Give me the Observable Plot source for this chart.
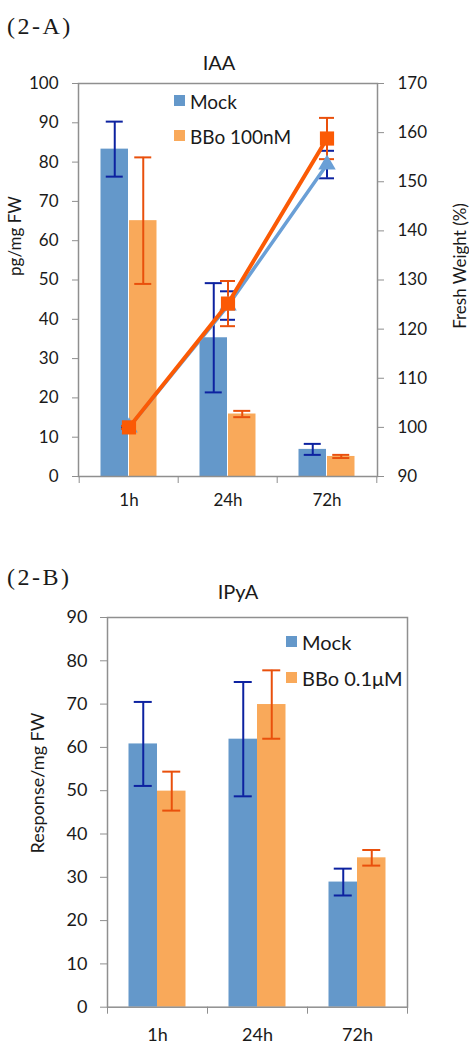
<!DOCTYPE html>
<html><head><meta charset="utf-8">
<script src="https://cdn.jsdelivr.net/npm/d3@7"></script>
<script src="https://cdn.jsdelivr.net/npm/@observablehq/plot@0.6"></script>
<style>
body{margin:0;background:#fff;}
#wrap{position:relative;width:469px;height:1045px;overflow:hidden;font-family:Lato,sans-serif;color:#1a1a1a;}
.abs{position:absolute;white-space:nowrap;line-height:1;}
.panel{font-family:"Liberation Serif","DejaVu Serif",serif;font-size:24px;letter-spacing:2.5px;}
.rot{transform:translate(-50%,-50%) rotate(-90deg);}
.ctr{transform:translate(-50%,-50%);}
.sw{position:absolute;width:11px;height:11px;}
svg{position:absolute;left:0;}
</style></head>
<body><div id="wrap"></div>
<script>
// ---------- data ----------
const times = ["1h", "24h", "72h"];
// Panel 2-A : IAA (pg/mg FW)
const iaaMock = [83.3, 35.3, 6.9];
const iaaMockErr = [7.0, 13.9, 1.4];
const iaaBBo = [65.1, 15.9, 5.1];
const iaaBBoErr = [16.1, 0.8, 0.4];
// Panel 2-A : Fresh Weight (%)
const fwMock = [100, 124.8, 153.5];
const fwMockErr = [0.2, 2.9, 2.8];
const fwBBo = [100, 125.2, 158.8];
const fwBBoErr = [0.3, 4.6, 4.2];
const iaaTicks = [0, 10, 20, 30, 40, 50, 60, 70, 80, 90, 100];
const fwTicks = [90, 100, 110, 120, 130, 140, 150, 160, 170];
// Panel 2-B : IPyA (Response/mg FW)
const ipyaMock = [60.8, 61.9, 28.9];
const ipyaMockErr = [9.7, 13.2, 3.1];
const ipyaBBo = [49.9, 69.9, 34.5];
const ipyaBBoErr = [4.5, 7.9, 1.8];
const ipyaTicks = [0, 10, 20, 30, 40, 50, 60, 70, 80, 90];

const legendA = ["Mock", "BBo 100nM"];
const legendB = ["Mock", "BBo 0.1μM"];

// ---------- styles ----------
const C = {
  mockBar: "#6498ca", bboBar: "#f9a95a",
  mockErr: "#0d22a0", bboErr: "#e9500c",
  mockLine: "#6a9fd6", bboLine: "#fb5a05",
  frame: "#8f8f8f", text: "#1a1a1a"
};

const rows = (vals, errs) => times.map((t, i) => ({t, v: vals[i], e: errs[i]}));

// FW (90..170) shown on the shared y scale (0..100)
const fwToY = v => (v - 90) * 100 / 80;
const yToFw = y => Math.round(y * 80 / 100 + 90);

function barMarks(data, side, fill, errColor) {
  const inL = side < 0 ? 21.5 : 50, inR = side < 0 ? 50 : 21.5;
  const cx = side < 0 ? -14.25 : 14.25;
  const capHalf = 9;
  return [
    Plot.barY(data, {x: "t", y: "v", fill, insetLeft: inL, insetRight: inR}),
    Plot.ruleX(data, {x: "t", y1: d => d.v - d.e, y2: d => d.v + d.e, dx: cx, stroke: errColor, strokeWidth: 2}),
    Plot.tickY(data, {x: "t", y: d => d.v + d.e, stroke: errColor, strokeWidth: 2,
      insetLeft: 50 + cx - capHalf, insetRight: 50 - cx - capHalf}),
    Plot.tickY(data, {x: "t", y: d => d.v - d.e, stroke: errColor, strokeWidth: 2,
      insetLeft: 50 + cx - capHalf, insetRight: 50 - cx - capHalf})
  ];
}

function lineErr(data, color, capHalf) {
  return [
    Plot.ruleX(data, {x: "t", y1: d => fwToY(d.v - d.e), y2: d => fwToY(d.v + d.e), stroke: color, strokeWidth: 2}),
    Plot.tickY(data, {x: "t", y: d => fwToY(d.v + d.e), stroke: color, strokeWidth: 2, insetLeft: 50 - capHalf, insetRight: 50 - capHalf}),
    Plot.tickY(data, {x: "t", y: d => fwToY(d.v - d.e), stroke: color, strokeWidth: 2, insetLeft: 50 - capHalf, insetRight: 50 - capHalf})
  ];
}

const wrap = document.getElementById("wrap");

// ---------- Panel A ----------
const mA = rows(iaaMock, iaaMockErr), bA = rows(iaaBBo, iaaBBoErr);
const fmA = rows(fwMock, fwMockErr), fbA = rows(fwBBo, fwBBoErr);
const plotA = Plot.plot({
  width: 469, height: 520,
  marginLeft: 78, marginRight: 92, marginTop: 83, marginBottom: 44,
  style: {fontFamily: "Lato, sans-serif", fontSize: "17px", color: C.text, background: "white"},
  x: {type: "band", domain: times, padding: 0, label: null},
  y: {domain: [0, 100], label: null},
  marks: [
    ...barMarks(mA, -1, C.mockBar, C.mockErr),
    ...barMarks(bA, 1, C.bboBar, C.bboErr),
    Plot.frame({stroke: C.frame, strokeWidth: 1.5}),
    Plot.axisY(iaaTicks, {anchor: "left", tickSize: 6, tickPadding: 14, stroke: C.frame, fill: C.text, fontSize: 17, label: null}),
    Plot.axisY(fwTicks.map(fwToY), {anchor: "right", tickSize: 6, tickPadding: 14, stroke: C.frame, fill: C.text, fontSize: 17, tickFormat: yToFw, label: null}),
    Plot.axisX({tickSize: 0, tickPadding: 17, fill: C.text, fontSize: 17, label: null}),
    Plot.axisX(times, {tickSize: 7, tickFormat: () => "", stroke: C.frame, dx: -49.8, label: null}),
    Plot.axisX([times[times.length - 1]], {tickSize: 7, tickFormat: () => "", stroke: C.frame, dx: 49.8, label: null}),
    ...lineErr(fmA, C.mockErr, 8),
    ...lineErr(fbA, C.bboErr, 8),
    Plot.line(fmA, {x: "t", y: d => fwToY(d.v), stroke: C.mockLine, strokeWidth: 3.5}),
    Plot.dot(fmA, {x: "t", y: d => fwToY(d.v), symbol: "triangle", r: 6.5, fill: C.mockLine}),
    Plot.line(fbA, {x: "t", y: d => fwToY(d.v), stroke: C.bboLine, strokeWidth: 4}),
    Plot.dot(fbA, {x: "t", y: d => fwToY(d.v), symbol: "square", r: 8, fill: C.bboLine})
  ]
});
plotA.style.top = "0px";
wrap.appendChild(plotA);

// ---------- Panel B ----------
const mB = rows(ipyaMock, ipyaMockErr), bB = rows(ipyaBBo, ipyaBBoErr);
const plotB = Plot.plot({
  width: 469, height: 485,
  marginLeft: 107, marginRight: 62, marginTop: 57, marginBottom: 38.3,
  style: {fontFamily: "Lato, sans-serif", fontSize: "18px", color: C.text, background: "white"},
  x: {type: "band", domain: times, padding: 0, label: null},
  y: {domain: [0, 90], label: null},
  marks: [
    ...barMarks(mB, -1, C.mockBar, C.mockErr),
    ...barMarks(bB, 1, C.bboBar, C.bboErr),
    Plot.frame({stroke: C.frame, strokeWidth: 1.5}),
    Plot.axisY(ipyaTicks, {anchor: "left", tickSize: 7, tickPadding: 13, stroke: C.frame, fill: C.text, fontSize: 18, label: null}),
    Plot.axisX({tickSize: 0, tickPadding: 21, fill: C.text, fontSize: 18, label: null}),
    Plot.axisX(times, {tickSize: 7, tickFormat: () => "", stroke: C.frame, dx: -50, label: null}),
    Plot.axisX([times[times.length - 1]], {tickSize: 7, tickFormat: () => "", stroke: C.frame, dx: 50, label: null})
  ]
});
plotB.style.top = "560px";
wrap.appendChild(plotB);

// ---------- text & legends ----------
function addText(txt, x, y, cls, size, extra) {
  const d = document.createElement("div");
  d.className = "abs " + cls;
  d.textContent = txt;
  d.style.left = x + "px"; d.style.top = y + "px";
  if (size) d.style.fontSize = size + "px";
  if (extra) Object.assign(d.style, extra);
  wrap.appendChild(d);
}
function addSwatch(x, y, color) {
  const s = document.createElement("div");
  s.className = "sw"; s.style.left = x + "px"; s.style.top = y + "px"; s.style.background = color;
  wrap.appendChild(s);
}

addText("(2-A)", 7, 14, "panel");
addText("IAA", 219, 62, "ctr", 20);
addText("pg/mg FW", 14, 236, "rot", 17);
addText("Fresh Weight (%)", 459, 266, "rot", 17);
addSwatch(174, 95, C.mockBar);
addText(legendA[0], 190, 101, "", 19, {transform: "translateY(-50%)"});
addSwatch(174, 130, C.bboBar);
addText(legendA[1], 190, 136, "", 19, {transform: "translateY(-50%)"});

addText("(2-B)", 7, 565, "panel");
addText("IPyA", 238, 591, "ctr", 20);
addText("Response/mg FW", 37, 783, "rot", 18);
addSwatch(286, 636, C.mockBar);
addText(legendB[0], 302, 642, "", 20, {transform: "translateY(-50%)"});
addSwatch(286, 672, C.bboBar);
addText(legendB[1], 302, 678, "", 20, {transform: "translateY(-50%)"});
</script>
</body></html>
